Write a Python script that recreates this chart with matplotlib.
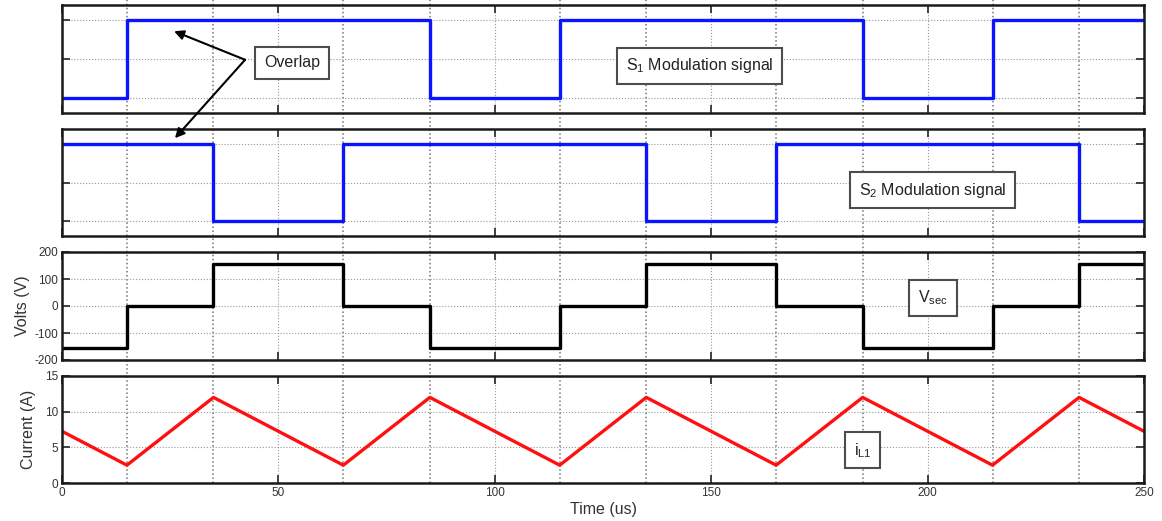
import matplotlib
matplotlib.use("Agg")
import matplotlib.pyplot as plt
from matplotlib.lines import Line2D
from matplotlib.transforms import blended_transform_factory

plt.rcParams['font.family'] = ['Liberation Sans', 'DejaVu Sans']
plt.rcParams['axes.unicode_minus'] = False

# switching instants (us) and signal levels
t_edges = [0, 15, 35, 65, 85, 115, 135, 165, 185, 215, 235, 250]
s1_levels = [0, 1, 1, 1, 0, 1, 1, 1, 0, 1, 1, 1]
s2_levels = [1, 1, 0, 1, 1, 1, 0, 1, 1, 1, 0, 0]
vsec_levels = [-155, 0, 155, 0, -155, 0, 155, 0, -155, 0, 155, 155]

# inductor current corners
t_il = [0, 15, 35, 65, 85, 115, 135, 165, 185, 215, 235, 250]
il_vals = [7.25, 2.5, 12, 2.5, 12, 2.5, 12, 2.5, 12, 2.5, 12, 7.25]

grid_marks = [15, 35, 65, 85, 115, 135, 165, 185, 215, 235]
x_ticks = [0, 50, 100, 150, 200, 250]

W, H = 1162, 521
fig = plt.figure(figsize=(W / 100, H / 100), dpi=100)

def px_axes(top, bottom, left=62, right=1144):
    return fig.add_axes([left / W, 1 - bottom / H, (right - left) / W, (bottom - top) / H])

ax1 = px_axes(5, 113)
ax2 = px_axes(129, 236)
ax3 = px_axes(252, 360)
ax4 = px_axes(376, 483)
axes = [ax1, ax2, ax3, ax4]

ax1.step(t_edges, s1_levels, where='post', color='#0a14ff', lw=2.4)
ax2.step(t_edges, s2_levels, where='post', color='#0a14ff', lw=2.4)
ax3.step(t_edges, vsec_levels, where='post', color='black', lw=2.4)
ax4.plot(t_il, il_vals, color='#ff1010', lw=2.4)

for ax in (ax1, ax2):
    ax.set_ylim(-0.2, 1.2)
    ax.set_yticks([0, 0.5, 1])
    ax.set_yticklabels([])
ax3.set_ylim(-200, 200)
ax3.set_yticks([-200, -100, 0, 100, 200])
ax4.set_ylim(0, 15)
ax4.set_yticks([0, 5, 10, 15])

for ax in axes:
    ax.set_xlim(0, 250)
    ax.set_xticks(x_ticks)
    ax.grid(True, linestyle=':', color='0.6', lw=0.8)
    ax.tick_params(direction='in', top=True, right=True, length=6, width=1.4,
                   labelsize=8.5, color='0.25', labelcolor='#333333', pad=3)
    for sp in ax.spines.values():
        sp.set_linewidth(1.8)
        sp.set_color('0.1')
    ax.set_facecolor('none')
for ax in (ax1, ax2, ax3):
    ax.set_xticklabels([])

ax3.set_ylabel('Volts (V)', fontsize=11.5, color='#333333', labelpad=3)
ax4.set_ylabel('Current (A)', fontsize=11.5, color='#333333', labelpad=6)
ax4.set_xlabel('Time (us)', fontsize=11.5, color='#333333', labelpad=2)

# dotted lines at each switching instant, running through all panels
trans = blended_transform_factory(ax4.transData, fig.transFigure)
y_low = 1 - 483 / H
for tm in grid_marks:
    fig.add_artist(Line2D([tm, tm], [y_low, 1.0], transform=trans,
                          linestyle=':', color='0.45', lw=1.1, zorder=0))

box = dict(boxstyle='square,pad=0.55', facecolor='white', edgecolor='0.3', lw=1.5)
txt = dict(fontsize=11.5, color='#222222', ha='center', va='center', zorder=10)

ax1.text(53.2, 0.45, 'Overlap', bbox=box, **txt)
ax1.text(147.4, 0.41, r'$\mathregular{S_1}$ Modulation signal', bbox=box, **txt)
ax2.text(201.2, 0.40, r'$\mathregular{S_2}$ Modulation signal', bbox=box, **txt)
ax3.text(201.2, 30, r'$\mathregular{V_{sec}}$', bbox=box, **txt)
ax4.text(185.0, 4.6, r'$\mathregular{i_{L1}}$', bbox=box, **txt)

arrow = dict(arrowstyle='-|>', color='black', lw=1.5, mutation_scale=14, shrinkA=0, shrinkB=0)
ax1.annotate('', xy=(25.9, 0.86), xytext=(42.3, 0.49), arrowprops=arrow, annotation_clip=False)
ax2.annotate('', xy=(26.1, 1.08), xytext=(42.3, 0.49), textcoords=ax1.transData,
             arrowprops=arrow, annotation_clip=False)

fig.savefig('out.png', dpi=100, facecolor='white')
